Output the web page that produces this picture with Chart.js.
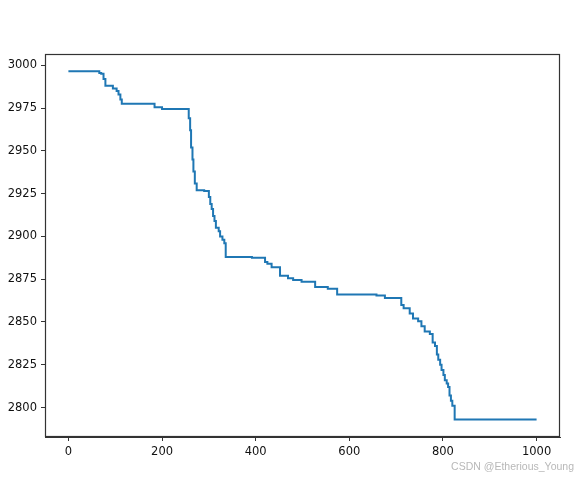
<!DOCTYPE html>
<html>
<head>
<meta charset="utf-8">
<script src="https://cdn.jsdelivr.net/npm/chart.js@4/dist/chart.umd.min.js"></script>
<style>
  html, body { margin: 0; padding: 0; background: #fff; }
  #wrap { position: relative; width: 577px; height: 478px; overflow: hidden; }
  #mark { position: absolute; right: 3px; top: 460px; font: 10.5px "Liberation Sans", Arial, sans-serif; color: #b8b8b8; white-space: nowrap; }
</style>
</head>
<body>
<div id="wrap">
  <canvas id="c"></canvas>
  <div id="mark">CSDN @Etherious_Young</div>
</div>
<script>
// iteration at which best cost changes, and the new best cost
const iterations = [0, 66, 70, 75, 79, 95, 103, 107, 111, 114, 184, 200, 257, 260, 262, 265, 267, 270, 274, 290,
  300, 303, 306, 309, 312, 315, 321, 324, 329, 333, 336, 392, 420, 425, 434, 452, 469, 480, 498, 527, 554, 574,
  658, 676, 711, 716, 729, 736, 747, 754, 761, 772, 778, 783, 787, 790, 794, 797, 801, 804, 808, 811, 814, 817, 820, 825, 1000];
const bestCost = [2996.5, 2995.5, 2995, 2992, 2988, 2986.5, 2985, 2983, 2980, 2977.5, 2975.5, 2974.5, 2969, 2962, 2952, 2945, 2938, 2931, 2927, 2926.5,
  2923, 2919, 2916, 2912, 2909, 2905, 2903, 2900, 2898, 2896, 2888, 2887.5, 2885, 2884, 2882, 2877, 2875.5, 2874.5, 2873.5, 2870.5, 2869.5, 2866,
  2865.5, 2864, 2860, 2858, 2855, 2852, 2850.5, 2847.5, 2844.5, 2843, 2838, 2836, 2831, 2828, 2825, 2822, 2819, 2816, 2814, 2812, 2807, 2804, 2801, 2793, 2793];
const xTickValues = [0, 200, 400, 600, 800, 1000];
const yTickValues = [2800, 2825, 2850, 2875, 2900, 2925, 2950, 2975, 3000];

const points = iterations.map((x, i) => ({ x: x, y: bestCost[i] }));

const boxPlugin = {
  id: 'box',
  afterDraw(chart) {
    const { ctx, chartArea: a } = chart;
    ctx.save();
    ctx.strokeStyle = '#333';
    ctx.lineWidth = 1.2;
    ctx.strokeRect(Math.round(a.left) + 0.5, Math.round(a.top) + 0.5,
      Math.round(a.right - a.left) - 1, Math.round(a.bottom - a.top) - 1);
    ctx.restore();
  }
};

const tickFont = { family: '"DejaVu Sans", sans-serif', size: 11.5 };
const plain = v => String(v);

new Chart(document.getElementById('c'), {
  type: 'line',
  data: {
    datasets: [{
      data: points,
      borderColor: '#1f77b4',
      borderWidth: 2,
      pointRadius: 0,
      stepped: 'before',
      fill: false
    }]
  },
  options: {
    responsive: true,
    maintainAspectRatio: false,
    animation: false,
    layout: { padding: { left: 0, top: 54, right: 17, bottom: 0 } },
    plugins: { legend: { display: false }, tooltip: { enabled: false } },
    scales: {
      x: {
        type: 'linear',
        min: -50,
        max: 1050,
        afterBuildTicks: s => { s.ticks = xTickValues.map(v => ({ value: v })); },
        afterFit: s => { s.height = 41; },
        grid: { drawOnChartArea: false, drawTicks: true, tickLength: 4, color: '#333' },
        border: { display: true, color: '#333' },
        ticks: { font: tickFont, color: '#111', padding: 4, maxRotation: 0, callback: plain }
      },
      y: {
        type: 'linear',
        min: 2782.8,
        max: 3006.6,
        afterBuildTicks: s => { s.ticks = yTickValues.map(v => ({ value: v })); },
        afterFit: s => { s.width = 45; },
        grid: { drawOnChartArea: false, drawTicks: true, tickLength: 4, color: '#333' },
        border: { display: true, color: '#333' },
        ticks: { font: tickFont, color: '#111', padding: 4, callback: plain }
      }
    }
  },
  plugins: [boxPlugin]
});
</script>
</body>
</html>
